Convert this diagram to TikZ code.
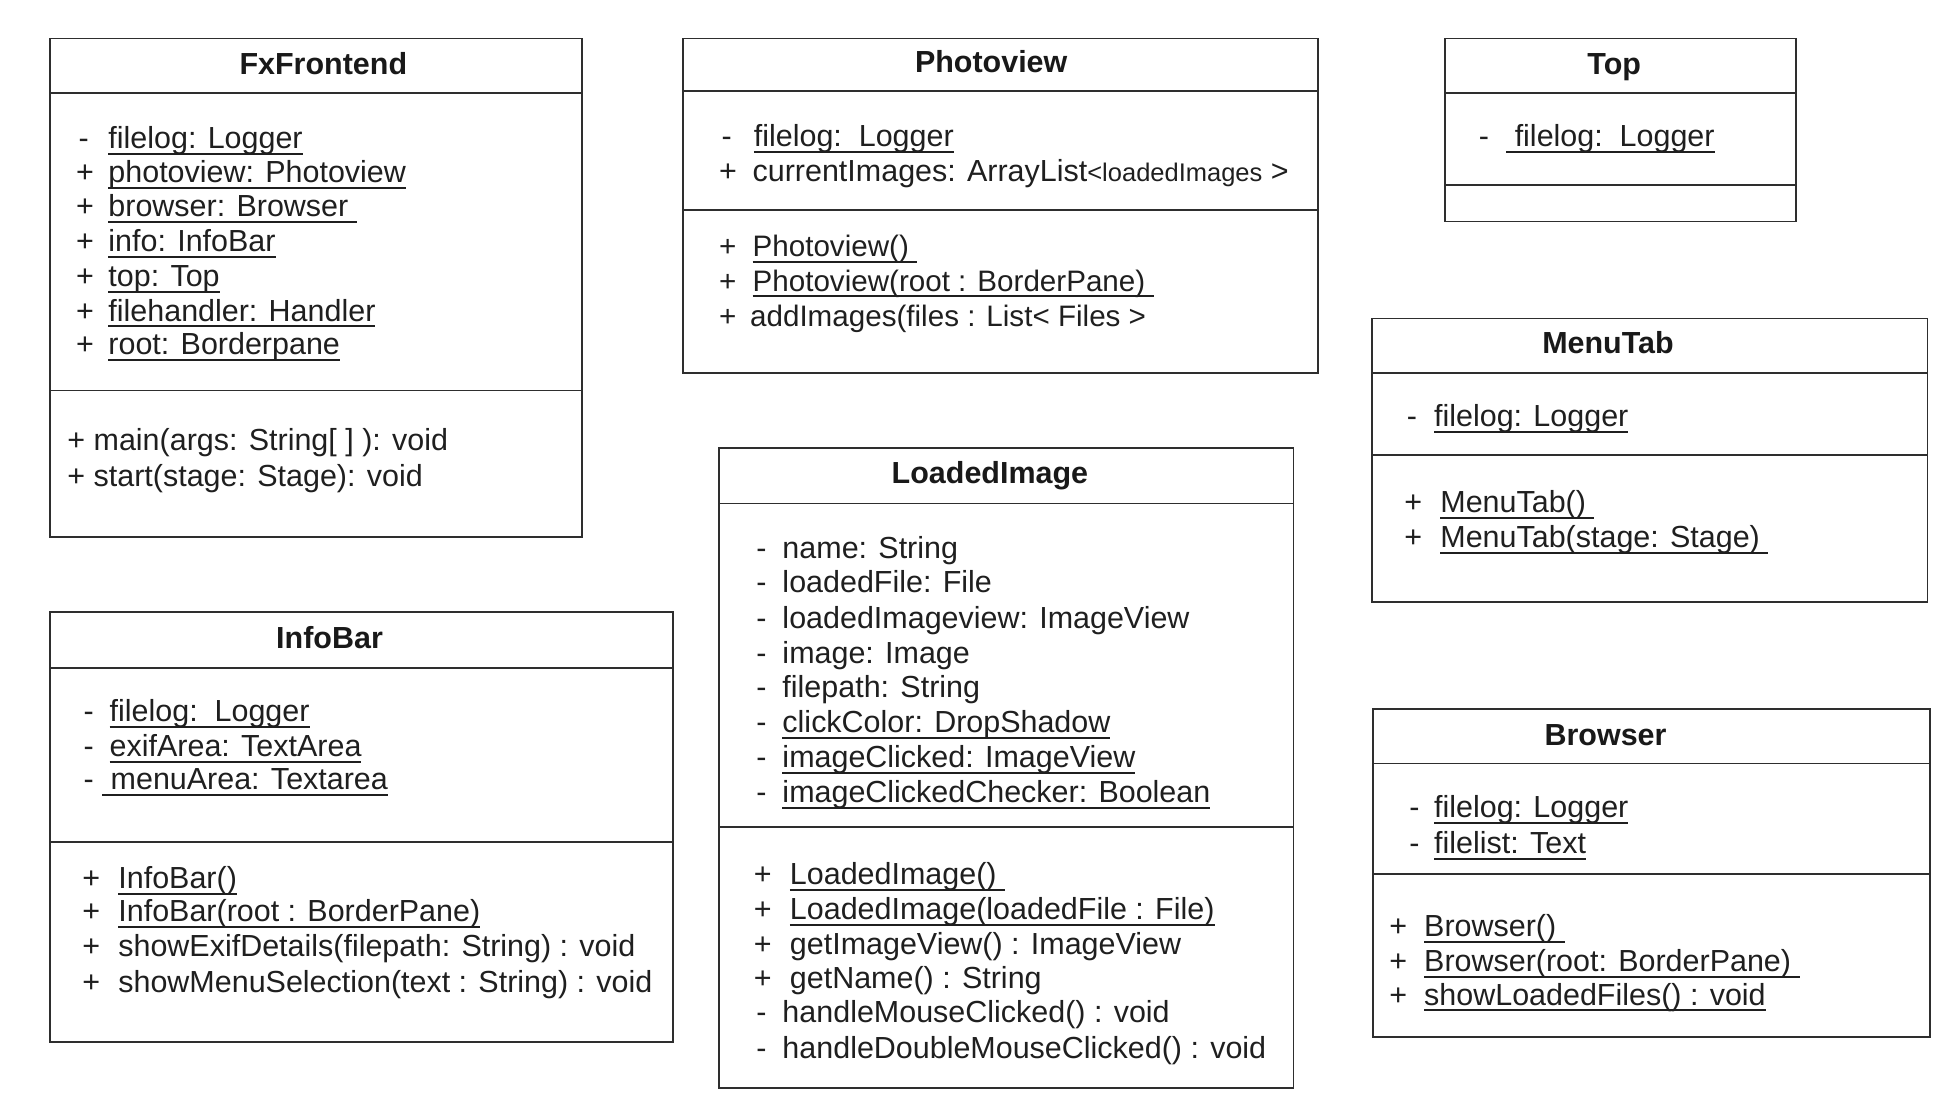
\documentclass[tikz,border=0pt]{standalone}
\usepackage{fontspec}
\setmainfont{Liberation Sans}
\newcommand\myul[1]{\setbox0\hbox{#1}\rlap{\rule[-0.21em]{\wd0}{0.065em}}\box0}
\newcommand\mk[2]{\makebox[#1pt][l]{#2}}
\begin{document}
\begin{tikzpicture}[x=1pt,y=-1pt,
  cls/.style={draw=black!82, line width=1.3pt, anchor=north west, inner sep=0pt, outer sep=0pt},
  sep/.style={draw=black!82, line width=1.3pt},
  ttl/.style={font=\bfseries\fontsize{24.5}{28}\selectfont, text=black!90, anchor=mid, inner sep=0pt, yshift=-5.5pt},
  ln/.style={font=\fontsize{24.5}{28}\selectfont, text=black!88, anchor=mid west, inner sep=0pt, yshift=-5.5pt},
  lnc/.style={font=\fontsize{23.8}{28}\selectfont, text=black!88, anchor=mid west, inner sep=0pt, yshift=-5.5pt}]
\useasboundingbox (0,0) rectangle (1568,882.8);

% ---------- FxFrontend
\node[cls, minimum width=428pt, minimum height=401pt] (fx) at (40,31) {};
\draw[sep] ([yshift=-44pt]fx.north west) -- ([yshift=-44pt]fx.north east);
\draw[sep] ([yshift=-283pt]fx.north west) -- ([yshift=-283pt]fx.north east);
\node[ttl] (fxt) at (260,52) {FxFrontend};
\node[ln] (fxa1) at (63,111) {\mk{24}{-}\myul{filelog: Logger}};
\node[ln] (fxa2) at (61,139) {\mk{26}{+}\myul{photoview: Photoview}};
\node[ln] (fxa3) at (61,166) {\mk{26}{+}\myul{browser: Browser\ }};
\node[ln] (fxa4) at (61,194) {\mk{26}{+}\myul{info: InfoBar}};
\node[ln] (fxa5) at (61,222) {\mk{26}{+}\myul{top: Top}};
\node[ln] (fxa6) at (61,250) {\mk{26}{+}\myul{filehandler: Handler}};
\node[ln] (fxa7) at (61,277) {\mk{26}{+}\myul{root: Borderpane}};
\node[ln] (fxm1) at (54,354) {+ main(args: String[ ] ): void};
\node[ln] (fxm2) at (54,383) {+ start(stage: Stage): void};

% ---------- Photoview
\node[cls, minimum width=511pt, minimum height=269pt] (pv) at (549,31) {};
\draw[sep] ([yshift=-42pt]pv.north west) -- ([yshift=-42pt]pv.north east);
\draw[sep] ([yshift=-138pt]pv.north west) -- ([yshift=-138pt]pv.north east);
\node[ttl] (pvt) at (797,50) {Photoview};
\node[ln] (pva1) at (580,110) {\mk{26}{-}\myul{filelog:\ \ Logger}};
\node[ln] (pva2) at (578,138) {\mk{27}{+}currentImages: ArrayList{\fontsize{20.5}{22}\selectfont<loadedImages} >};
\node[lnc] (pvm1) at (578,198) {\mk{27}{+}\myul{Photoview()\ }};
\node[lnc] (pvm2) at (578,226) {\mk{27}{+}\myul{Photoview(root : BorderPane)\ }};
\node[lnc] (pvm3) at (578,254) {\mk{25}{+}addImages(files : List< Files >};

% ---------- Top
\node[cls, minimum width=282pt, minimum height=147pt] (tp) at (1162,31) {};
\draw[sep] ([yshift=-44pt]tp.north west) -- ([yshift=-44pt]tp.north east);
\draw[sep] ([yshift=-118pt]tp.north west) -- ([yshift=-118pt]tp.north east);
\node[ttl] (tpt) at (1298,52) {Top};
\node[ln] (tpa1) at (1189,110) {\mk{22}{-}\myul{\ filelog:\ \ Logger}};

% ---------- MenuTab
\node[cls, minimum width=447pt, minimum height=228pt] (mt) at (1103,256) {};
\draw[sep] ([yshift=-44pt]mt.north west) -- ([yshift=-44pt]mt.north east);
\draw[sep] ([yshift=-110pt]mt.north west) -- ([yshift=-110pt]mt.north east);
\node[ttl] (mtt) at (1293,276) {MenuTab};
\node[ln] (mta1) at (1131,335) {\mk{22}{-}\myul{filelog: Logger}};
\node[ln] (mtm1) at (1129,404) {\mk{29}{+}\myul{MenuTab()\ }};
\node[ln] (mtm2) at (1129,432) {\mk{29}{+}\myul{MenuTab(stage: Stage)\ }};

% ---------- InfoBar
\node[cls, minimum width=501pt, minimum height=346pt] (ib) at (40,492) {};
\draw[sep] ([yshift=-45pt]ib.north west) -- ([yshift=-45pt]ib.north east);
\draw[sep] ([yshift=-185pt]ib.north west) -- ([yshift=-185pt]ib.north east);
\node[ttl] (ibt) at (265,513) {InfoBar};
\node[ln] (iba1) at (67,572) {\mk{21}{-}\myul{filelog:\ \ Logger}};
\node[ln] (iba2) at (67,600) {\mk{21}{-}\myul{exifArea: TextArea}};
\node[ln] (iba3) at (67,627) {\mk{15}{-}\myul{\ menuArea: Textarea}};
\node[ln] (ibm1) at (66,706) {\mk{29}{+}\myul{InfoBar()}};
\node[ln] (ibm2) at (66,733) {\mk{29}{+}\myul{InfoBar(root : BorderPane)}};
\node[ln] (ibm3) at (66,761) {\mk{29}{+}showExifDetails(filepath: String) : void};
\node[ln] (ibm4) at (66,790) {\mk{29}{+}showMenuSelection(text : String) : void};

% ---------- LoadedImage
\node[cls, minimum width=462pt, minimum height=515pt] (li) at (578,360) {};
\draw[sep] ([yshift=-45pt]li.north west) -- ([yshift=-45pt]li.north east);
\draw[sep] ([yshift=-305pt]li.north west) -- ([yshift=-305pt]li.north east);
\node[ttl] (lit) at (796,381) {LoadedImage};
\node[ln] (lia1) at (608,441) {\mk{21}{-}name: String};
\node[ln] (lia2) at (608,468) {\mk{21}{-}loadedFile: File};
\node[ln] (lia3) at (608,497) {\mk{21}{-}loadedImageview: ImageView};
\node[ln] (lia4) at (608,525) {\mk{21}{-}image: Image};
\node[ln] (lia5) at (608,553) {\mk{21}{-}filepath: String};
\node[ln] (lia6) at (608,581) {\mk{21}{-}\myul{clickColor: DropShadow}};
\node[ln] (lia7) at (608,609) {\mk{21}{-}\myul{imageClicked: ImageView}};
\node[ln] (lia8) at (608,637) {\mk{21}{-}\myul{imageClickedChecker: Boolean}};
\node[ln] (lim1) at (606,703) {\mk{29}{+}\myul{LoadedImage()\ }};
\node[ln] (lim2) at (606,731) {\mk{29}{+}\myul{LoadedImage(loadedFile : File)}};
\node[ln] (lim3) at (606,759) {\mk{29}{+}getImageView() : ImageView};
\node[ln] (lim4) at (606,787) {\mk{29}{+}getName() : String};
\node[ln] (lim5) at (608,814) {\mk{21}{-}handleMouseClicked() : void};
\node[ln] (lim6) at (608,843) {\mk{21}{-}handleDoubleMouseClicked() : void};

% ---------- Browser
\node[cls, minimum width=448pt, minimum height=264pt] (br) at (1104,570) {};
\draw[sep] ([yshift=-44pt]br.north west) -- ([yshift=-44pt]br.north east);
\draw[sep] ([yshift=-133pt]br.north west) -- ([yshift=-133pt]br.north east);
\node[ttl] (brt) at (1291,591) {Browser};
\node[ln] (bra1) at (1133,649) {\mk{20}{-}\myul{filelog: Logger}};
\node[ln] (bra2) at (1133,678) {\mk{20}{-}\myul{filelist: Text}};
\node[ln] (brm1) at (1117,745) {\mk{28}{+}\myul{Browser()\ }};
\node[ln] (brm2) at (1117,773) {\mk{28}{+}\myul{Browser(root: BorderPane)\ }};
\node[ln] (brm3) at (1117,800) {\mk{28}{+}\myul{showLoadedFiles() : void}};
\end{tikzpicture}
\end{document}
